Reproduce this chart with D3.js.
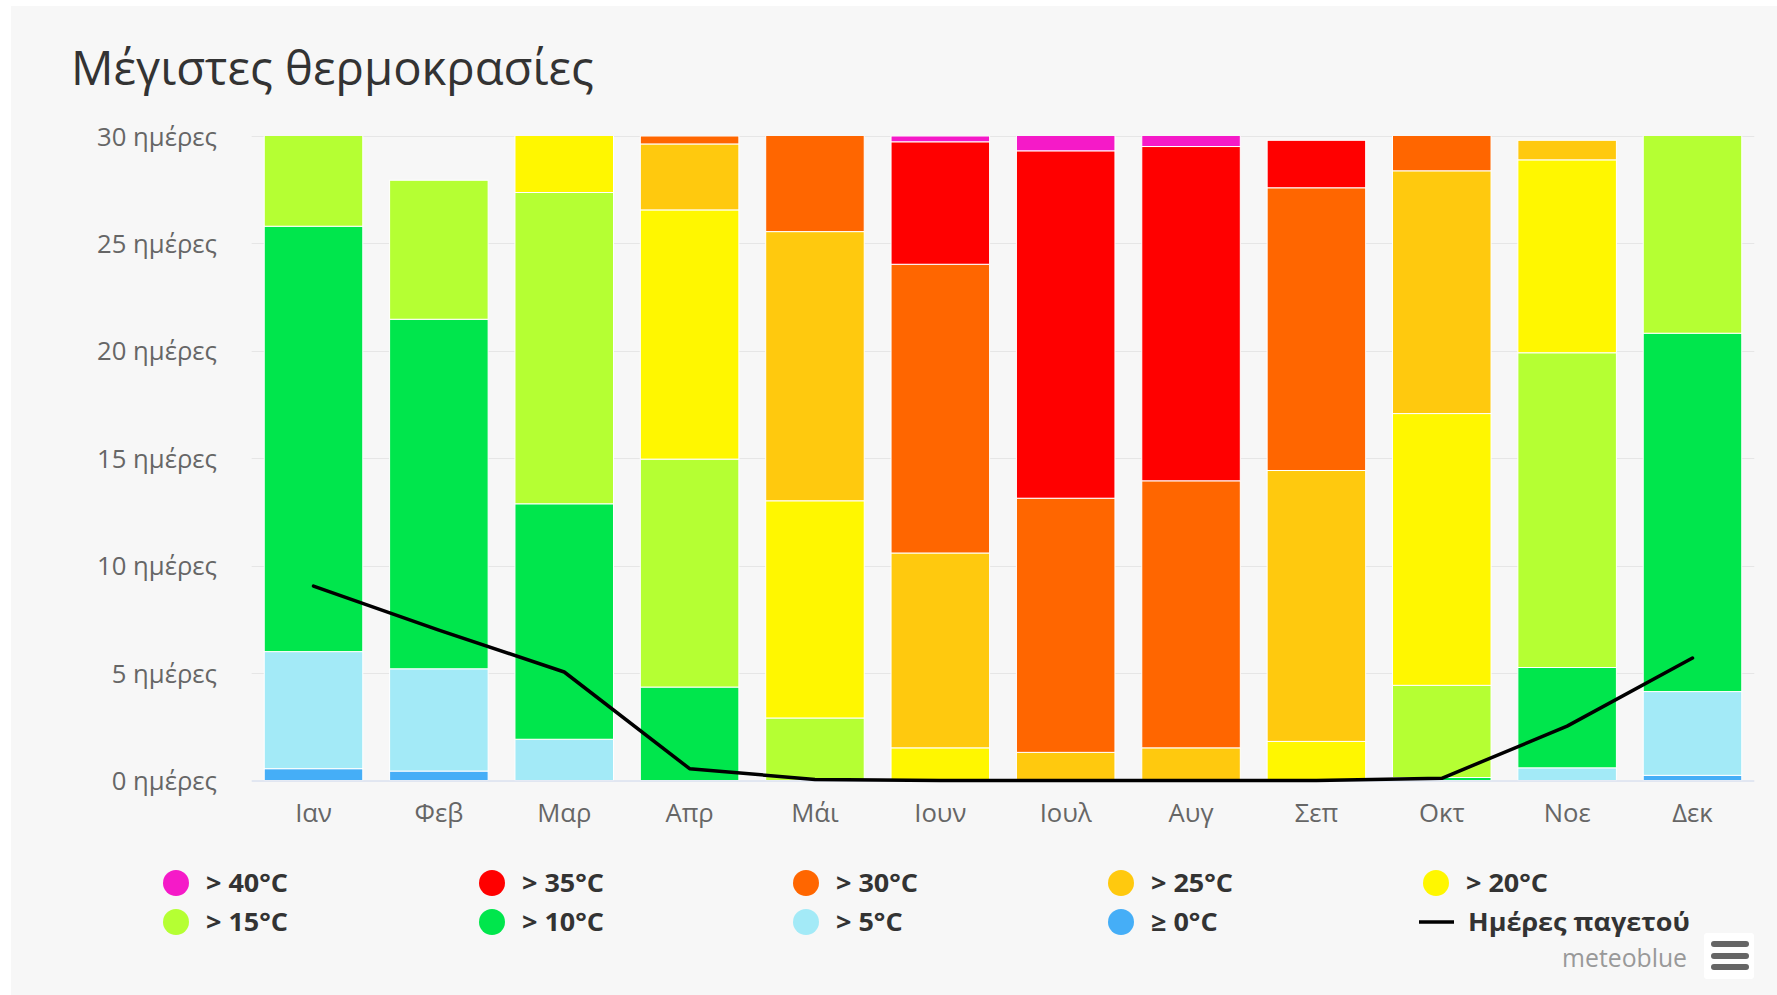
<!DOCTYPE html>
<html>
<head>
<meta charset="utf-8">
<script src="https://cdn.jsdelivr.net/npm/d3@7"></script>
<style>
  html, body { margin: 0; padding: 0; background: #ffffff; }
  svg { display: block; }
</style>
</head>
<body>
<svg id="chart" width="1777" height="995"></svg>
<script>
// ---------- DATA ----------
const months = ["Ιαν", "Φεβ", "Μαρ", "Απρ", "Μάι", "Ιουν", "Ιουλ", "Αυγ", "Σεπ", "Οκτ", "Νοε", "Δεκ"];
const yTicks = [0, 5, 10, 15, 20, 25, 30];
const yTickSuffix = " ημέρες";

const daysGe0  = [0.55, 0.44, 0,     0,     0,     0,     0,     0,     0,     0,     0,     0.24];
const daysGt5  = [5.45, 4.76, 1.92,  0,     0,     0,     0,     0,     0,     0,     0.59,  3.9];
const daysGt10 = [19.8, 16.27, 10.96, 4.35, 0,     0,     0,     0,     0,     0.14,  4.67,  16.68];
const daysGt15 = [5.2,  6.47, 14.49, 10.61, 2.91,  0,     0,     0,     0,     4.29,  14.65, 10.18];
const daysGt20 = [0,    0,    3.63,  11.6,  10.11, 1.52,  0,     0,     1.82,  12.65, 8.98,  0];
const daysGt25 = [0,    0,    0,     3.07,  12.53, 9.07,  1.31,  1.52,  12.61, 11.3,  0.91,  0];
const daysGt30 = [0,    0,    0,     0.37,  5.45,  13.44, 11.83, 12.43, 13.16, 2.62,  0,     0];
const daysGt35 = [0,    0,    0,     0,     0,     5.7,   16.17, 15.56, 2.21,  0,     0,     0];
const daysGt40 = [0,    0,    0,     0,     0,     0.27,  1.69,  1.49,  0,     0,     0,     0];
const frostDays = [9.05, 7.0, 5.05, 0.55, 0.05, 0, 0, 0, 0, 0.1, 2.53, 5.7];

const seriesNames = ["≥ 0°C", "> 5°C", "> 10°C", "> 15°C", "> 20°C", "> 25°C", "> 30°C", "> 35°C", "> 40°C"];
const seriesColors = ["#45AEF7", "#A3EAF7", "#00E64C", "#B5FF33", "#FFF700", "#FFC90E", "#FF6600", "#FF0000", "#F51AC8"];
const seriesValues = [daysGe0, daysGt5, daysGt10, daysGt15, daysGt20, daysGt25, daysGt30, daysGt35, daysGt40];
const frostName = "Ημέρες παγετού";
const titleText = "Μέγιστες θερμοκρασίες";
const creditText = "meteoblue";

// ---------- LAYOUT ----------
const W = 1777, H = 995;
const plot = { left: 251.7, right: 1754.3, top: 136, bottom: 780.5 };
const svg = d3.select("#chart");
const baseFont = "'Open Sans', 'Noto Sans', sans-serif";
const legendFont = "'Open Sans', 'Noto Sans', sans-serif";

// panel background
svg.append("rect").attr("x", 11).attr("y", 6).attr("width", W - 11).attr("height", H - 6).attr("fill", "#f7f7f7");

function measure(text, family, weight, size) {
  const t = svg.append("text").attr("font-family", family).attr("font-weight", weight)
    .attr("font-size", size).text(text);
  const w = t.node().getComputedTextLength();
  t.remove();
  return w;
}
function fitSize(text, family, weight, target, testSize) {
  return testSize * target / measure(text, family, weight, testSize);
}

// title
const titleSize = fitSize(titleText, baseFont, 400, 523, 40);
svg.append("text").attr("x", 71).attr("y", 85)
  .attr("font-family", baseFont).attr("font-size", titleSize).attr("fill", "#333333")
  .text(titleText);

// scales
const x = d3.scaleBand().domain(months).range([plot.left, plot.right]).paddingInner(0.214).paddingOuter(0.1);
const y = d3.scaleLinear().domain([0, 30]).range([plot.bottom, plot.top]);

// grid
const yLabelSize = fitSize("30" + yTickSuffix, baseFont, 400, 120, 20);
const gGrid = svg.append("g");
gGrid.selectAll("line").data(yTicks.filter(d => d !== 0)).join("line")
  .attr("x1", plot.left).attr("x2", plot.right)
  .attr("y1", d => Math.round(y(d)) + 0.5).attr("y2", d => Math.round(y(d)) + 0.5)
  .attr("stroke", "#e6e6e6").attr("stroke-width", 1);

// y axis labels via d3 axis
const yAxis = d3.axisLeft(y).tickValues(yTicks).tickSize(0).tickPadding(0)
  .tickFormat(d => d + yTickSuffix);
const gy = svg.append("g").attr("transform", `translate(${217},0)`).call(yAxis);
gy.select(".domain").remove();
gy.selectAll("text").attr("font-family", baseFont).attr("font-size", yLabelSize)
  .attr("fill", "#666666").attr("dy", "0.35em");

// stacked data
const stackInput = months.map((m, i) => {
  const o = { month: m };
  seriesNames.forEach((s, k) => { o[s] = seriesValues[k][i]; });
  return o;
});
const stacked = d3.stack().keys(seriesNames)(stackInput);

// clip
svg.append("defs").append("clipPath").attr("id", "plotclip").append("rect")
  .attr("x", plot.left).attr("y", plot.top).attr("width", plot.right - plot.left).attr("height", plot.bottom - plot.top + 1);

const gBars = svg.append("g").attr("clip-path", "url(#plotclip)");
stacked.forEach((layer, k) => {
  gBars.append("g").attr("fill", seriesColors[k])
    .selectAll("rect").data(layer.filter(d => d[1] - d[0] > 0)).join("rect")
    .attr("x", d => x(d.data.month))
    .attr("width", x.bandwidth())
    .attr("y", d => y(d[1]))
    .attr("height", d => y(d[0]) - y(d[1]))
    .attr("stroke", "#ffffff").attr("stroke-width", 1);
});

// x axis
const xAxis = d3.axisBottom(x).tickSize(0).tickPadding(0);
const gx = svg.append("g").attr("transform", `translate(0,${plot.bottom})`).call(xAxis);
gx.select(".domain").attr("stroke", "#ccd6eb").attr("d", `M${plot.left},0.5H${plot.right}`);
gx.selectAll("text").attr("font-family", baseFont).attr("font-size", yLabelSize)
  .attr("fill", "#666666").attr("dy", 0).attr("y", 41);

// frost line
const line = d3.line().x((d, i) => x(months[i]) + x.bandwidth() / 2).y(d => y(d));
svg.append("path").datum(frostDays).attr("d", line)
  .attr("fill", "none").attr("stroke", "#000000").attr("stroke-width", 3.5)
  .attr("stroke-linejoin", "round").attr("stroke-linecap", "round");

// legend
const legendOrder = [8, 7, 6, 5, 4, 3, 2, 1, 0];
const colX = [176, 492, 806, 1121, 1436];
const rowY = [883, 922];
const legendSize = 25;
const legendSx = 222 / measure(frostName, legendFont, 700, legendSize);
const gLeg = svg.append("g");
legendOrder.forEach((k, idx) => {
  const c = idx % 5, r = Math.floor(idx / 5);
  const g = gLeg.append("g").attr("transform", `translate(${colX[c]},${rowY[r]})`);
  g.append("circle").attr("r", 13).attr("fill", seriesColors[k]);
  g.append("text").attr("transform", `translate(30,0) scale(${legendSx},1)`).attr("dy", "0.36em")
    .attr("font-family", legendFont).attr("font-weight", 700).attr("font-size", legendSize)
    .attr("fill", "#333333").text(seriesNames[k]);
});
{
  const g = gLeg.append("g").attr("transform", `translate(${colX[4]},${rowY[1]})`);
  g.append("line").attr("x1", -17).attr("x2", 18).attr("y1", 0).attr("y2", 0)
    .attr("stroke", "#000").attr("stroke-width", 3.5);
  g.append("text").attr("transform", `translate(32,0) scale(${legendSx},1)`).attr("dy", "0.36em")
    .attr("font-family", legendFont).attr("font-weight", 700).attr("font-size", legendSize)
    .attr("fill", "#333333").text(frostName);
}

// credits
const creditSize = 26;
const creditSx = 125 / measure(creditText, legendFont, 400, creditSize);
svg.append("text").attr("transform", `translate(1687,967) scale(${creditSx},1)`).attr("text-anchor", "end")
  .attr("font-family", legendFont).attr("font-size", creditSize).attr("fill", "#999999")
  .text(creditText);

// menu button
svg.append("rect").attr("x", 1704).attr("y", 933).attr("width", 50).attr("height", 46)
  .attr("rx", 3).attr("fill", "#ffffff");
[944, 956, 967].forEach(yy => {
  svg.append("line").attr("x1", 1714).attr("x2", 1746).attr("y1", yy).attr("y2", yy)
    .attr("stroke", "#666666").attr("stroke-width", 6).attr("stroke-linecap", "round");
});
</script>
</body>
</html>
